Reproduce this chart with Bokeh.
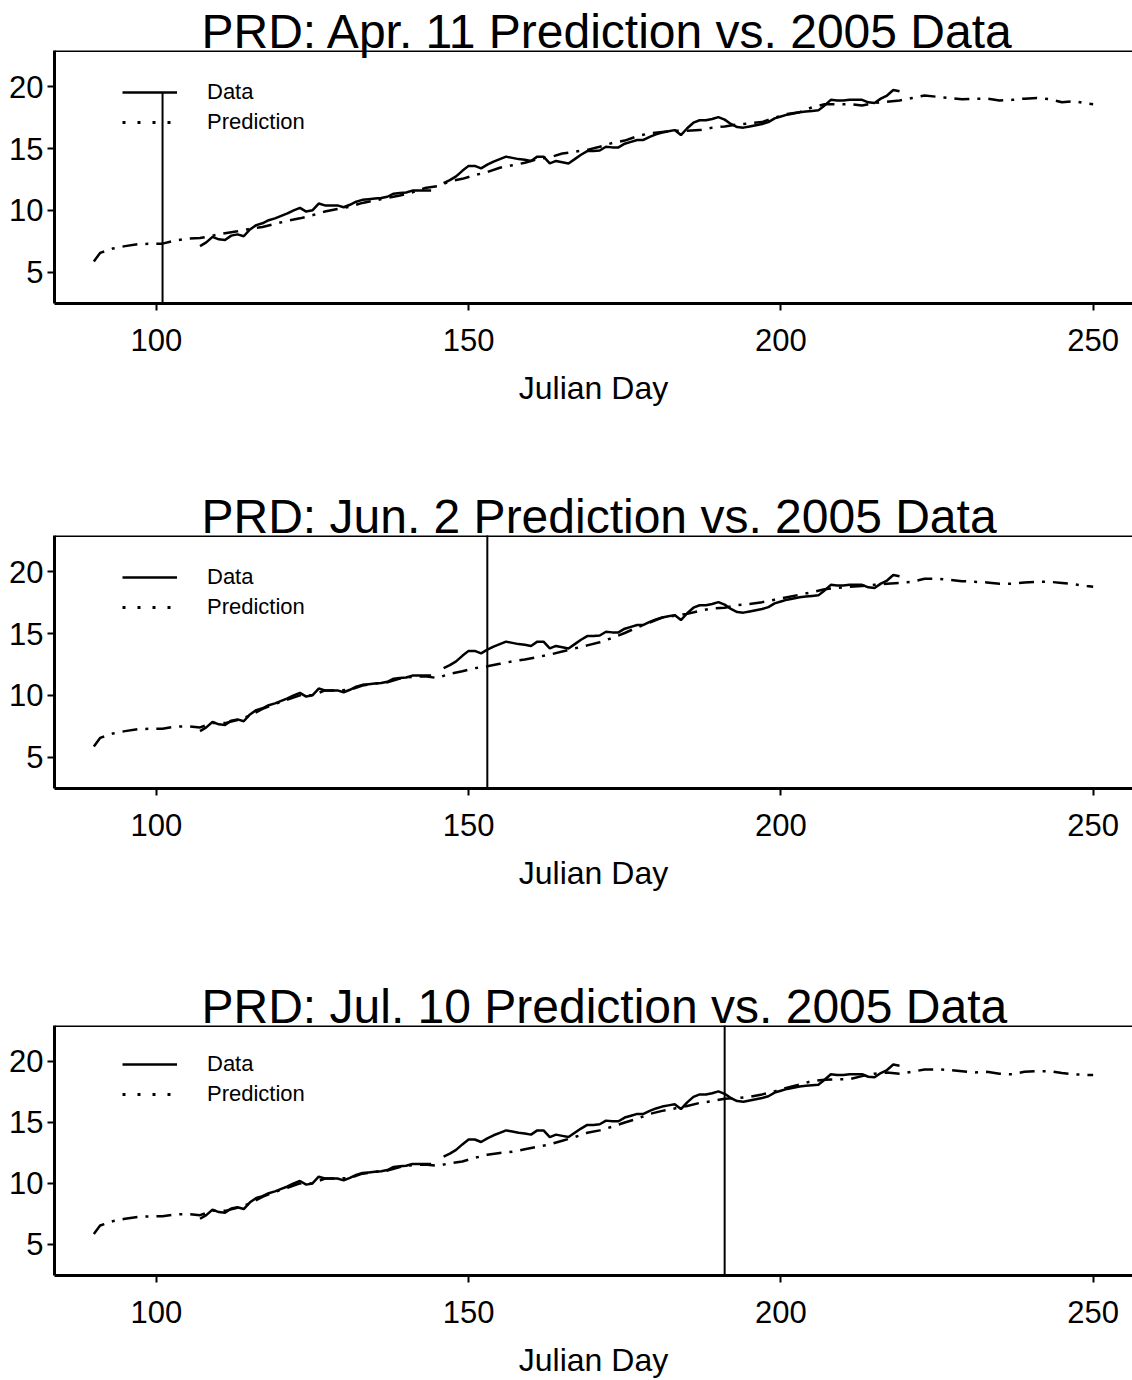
from bokeh.plotting import figure
from bokeh.layouts import column
from bokeh.models import Range1d, FixedTicker, Legend, LegendItem, Span, Title
from bokeh.embed import file_html
from bokeh.resources import INLINE

FONT = "Liberation Sans"
NaN = float("nan")

# ---------------- data ----------------
x_ticks = [100, 150, 200, 250]
y_ticks = [5, 10, 15, 20]
titles = ["PRD: Apr. 11 Prediction vs. 2005 Data",
          "PRD: Jun. 2 Prediction vs. 2005 Data",
          "PRD: Jul. 10 Prediction vs. 2005 Data"]
marker_days = [101, 153, 191]          # prediction dates (Julian day)
marker_tops = [19.55, 30, 30]          # top of the vertical marker segment

data_days = list(range(107, 220))
data_vals = [7.1, 7.4, 7.85, 7.65, 7.6, 7.95, 8.05, 7.9, 8.45, 8.8,          # 107-116
             8.95, 9.2, 9.35, 9.55, 9.75, 10.0, 10.2, 9.9, 10.0, 10.55,      # 117-126
             10.4, 10.4, 10.4, 10.25, 10.45, 10.7, 10.85, 10.9, 10.95, 11.0, # 127-136
             11.1, 11.35, 11.4, 11.45, 11.6, 11.6, 11.6, 11.6, NaN, 12.2,    # 137-146
             12.45, 12.75, 13.2, 13.6, 13.6, 13.4, 13.7, 13.95, 14.15, 14.35,# 147-156
             14.25, 14.15, 14.1, 14.0, 14.35, 14.35, 13.8, 14.0, 13.9, 13.8, # 157-166
             14.15, 14.5, 14.8, 14.8, 14.85, 15.15, 15.1, 15.1, 15.4, 15.55, # 167-176
             15.7, 15.7, 15.95, 16.15, 16.3, 16.4, 16.5, 16.1, 16.65, 17.1,  # 177-186
             17.3, 17.3, 17.4, 17.55, 17.35, 17.0, 16.75, 16.7, 16.8, 16.9,  # 187-196
             17.0, 17.15, 17.45, 17.6, 17.75, 17.85, 17.95, 18.0, 18.05, 18.1,  # 197-206
             18.5, 18.95, 18.9, 18.9, 18.95, 18.95, 18.95, 18.75, 18.7, 19.05,  # 207-216
             19.3, 19.75, 19.65]                                                # 217-219

pred_days = [90] + list(range(91, 250, 2)) + [250]

pred_apr11 = [5.85, 6.55, 6.9, 7.1, 7.25, 7.3, 7.3, 7.55, 7.7, 7.75,       # 90-107
              7.95, 8.15, 8.3, 8.5, 8.65, 8.9, 9.15, 9.35, 9.6, 9.9,       # 109-127
              10.1, 10.3, 10.6, 10.8, 11.0, 11.2, 11.45, 11.8, 11.95, 12.35,  # 129-147
              12.55, 12.85, 13.1, 13.45, 13.65, 13.85, 14.15, 14.3, 14.6, 14.75,  # 149-167
              14.9, 15.15, 15.45, 15.65, 16.0, 16.25, 16.35, 16.45, 16.45, 16.5,  # 169-187
              16.7, 16.8, 16.95, 17.05, 17.15, 17.5, 17.8, 17.95, 18.35, 18.6,    # 189-207
              18.6, 18.6, 18.5, 18.7, 18.8, 18.9, 19.1, 19.3, 19.2, 19.1,         # 209-227
              19.0, 19.05, 19.05, 18.9, 18.95, 19.05, 19.1, 19.0, 18.75, 18.85,   # 229-247
              18.65, 18.6]                                                         # 249-250

pred_jun2 = [5.85, 6.55, 6.9, 7.1, 7.25, 7.3, 7.3, 7.45, 7.5, 7.4,         # 90-107
             7.75, 7.75, 8.0, 8.35, 8.9, 9.3, 9.65, 10.0, 10.0, 10.4,      # 109-127
             10.4, 10.45, 10.8, 10.95, 11.05, 11.35, 11.5, 11.55, 11.4, 11.75,  # 129-147
             11.95, 12.2, 12.35, 12.55, 12.75, 12.9, 13.1, 13.3, 13.55, 13.8,   # 149-167
             14.05, 14.3, 14.65, 15.05, 15.5, 15.9, 16.3, 16.45, 16.6, 16.85,   # 169-187
             17.05, 17.1, 17.3, 17.4, 17.55, 17.75, 17.95, 18.15, 18.35, 18.6,  # 189-207
             18.7, 18.8, 18.85, 18.95, 19.05, 19.1, 19.2, 19.45, 19.45, 19.35,  # 209-227
             19.25, 19.2, 19.15, 19.05, 19.05, 19.15, 19.2, 19.2, 19.1, 19.0,   # 229-247
             18.85, 18.8]                                                        # 249-250

pred_jul10 = [5.85, 6.55, 6.9, 7.1, 7.25, 7.3, 7.3, 7.45, 7.5, 7.4,        # 90-107
              7.75, 7.75, 8.0, 8.35, 8.9, 9.3, 9.65, 10.0, 10.0, 10.4,     # 109-127
              10.4, 10.45, 10.8, 10.95, 11.05, 11.35, 11.5, 11.55, 11.45, 11.65,  # 129-147
              11.8, 12.1, 12.35, 12.5, 12.6, 12.8, 13.0, 13.2, 13.5, 13.8,        # 149-167
              14.15, 14.35, 14.65, 15.0, 15.3, 15.7, 15.95, 16.15, 16.35, 16.6,   # 169-187
              16.75, 16.95, 17.0, 17.1, 17.3, 17.55, 17.85, 18.1, 18.4, 18.5,     # 189-207
              18.55, 18.55, 18.8, 19.0, 19.1, 19.0, 19.15, 19.35, 19.35, 19.3,    # 209-227
              19.2, 19.1, 19.15, 19.0, 18.95, 19.15, 19.2, 19.2, 19.05, 18.95,    # 229-247
              18.9, 18.9]                                                          # 249-250

predictions = [pred_apr11, pred_jun2, pred_jul10]
for pr in predictions:
    assert len(pr) == len(pred_days)
assert len(data_vals) == len(data_days)

# ---------------- layout ----------------
FRAME_H = 253
TOP = 50
heights = [485, 490, 405]


def make_panel(i):
    h = heights[i]
    p = figure(width=1132, height=h, output_backend="svg", toolbar_location=None,
               x_range=Range1d(83.7, 256.3), y_range=Range1d(2.45, 22.95),
               min_border_left=54, min_border_right=0, min_border_top=TOP,
               min_border_bottom=h - TOP - FRAME_H)
    p.grid.visible = False
    p.outline_line_color = None
    p.background_fill_color = "white"
    p.border_fill_color = "white"

    # title (baseline sits on the top edge of the box)
    p.title = Title(text=titles[i], align="left", offset=147, vertical_align="bottom",
                    standoff=-14, text_font=FONT, text_font_size="48px",
                    text_font_style="normal", text_color="black")

    # top edge of the box
    p.add_layout(Span(location=22.95, dimension="width", line_color="black", line_width=3))

    # prediction (dot-dash) and data (solid)
    p.line(pred_days, predictions[i], line_color="black", line_width=2.5,
           line_dash="15 8 3 8")
    p.line(data_days, data_vals, line_color="black", line_width=2.5)

    # prediction-date marker
    p.segment(x0=[marker_days[i]], y0=[0], x1=[marker_days[i]], y1=[marker_tops[i]],
              line_color="black", line_width=2)

    # legend (sample renderers lie outside the visible range)
    r1 = p.line([0, 1], [0, 0], line_color="black", line_width=2.5)
    r2 = p.line([0, 1], [0, 0], line_color="black", line_width=3, line_dash="3 12")
    leg = Legend(items=[LegendItem(label="Data", renderers=[r1]),
                        LegendItem(label="Prediction", renderers=[r2])],
                 location=(68, 168), border_line_color=None, background_fill_alpha=0,
                 padding=0, margin=0, spacing=4, glyph_width=55, glyph_height=22,
                 label_height=22, label_standoff=30,
                 label_text_font_size="22px", label_text_font=FONT,
                 label_text_color="black")
    p.add_layout(leg)

    # axes
    p.xaxis.ticker = FixedTicker(ticks=x_ticks)
    p.yaxis.ticker = FixedTicker(ticks=y_ticks)
    for ax in (p.xaxis[0], p.yaxis[0]):
        ax.axis_line_width = 3
        ax.axis_line_color = "black"
        ax.major_tick_line_width = 2
        ax.major_tick_line_color = "black"
        ax.major_tick_out = 7
        ax.major_tick_in = 0
        ax.minor_tick_line_color = None
        ax.major_label_text_font = FONT
        ax.major_label_text_font_size = "31px"
        ax.major_label_text_color = "black"
    p.xaxis.axis_label = "Julian Day"
    p.xaxis.axis_label_text_font = FONT
    p.xaxis.axis_label_text_font_size = "32px"
    p.xaxis.axis_label_text_font_style = "normal"
    p.xaxis.axis_label_text_color = "black"
    p.xaxis.major_label_standoff = 18
    p.xaxis.axis_label_standoff = 16
    p.yaxis.major_label_standoff = 4
    return p


panels = [make_panel(i) for i in range(3)]
layout = column(*panels, spacing=0)

open("out.html", "w").write(file_html(layout, INLINE))
